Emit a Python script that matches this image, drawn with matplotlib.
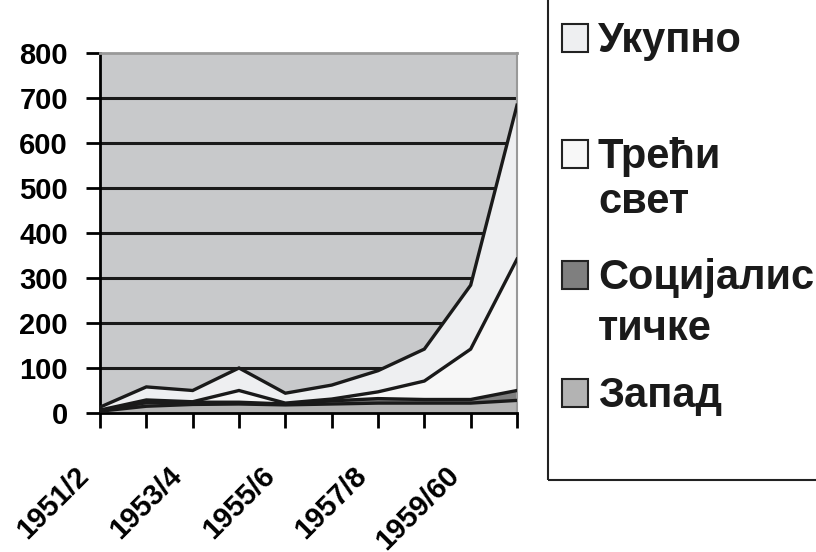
import numpy as np
import matplotlib
matplotlib.use("Agg")
import matplotlib.pyplot as plt
from matplotlib.patches import Rectangle

years = ["1951/2", "1952/3", "1953/4", "1954/5", "1955/6",
         "1956/7", "1957/8", "1958/9", "1959/60", "1960/1"]
zapad = [4, 15, 19, 20, 18, 20, 22, 22, 22, 28]
socijalisticke = [1, 8, 5, 4, 2, 7, 10, 8, 8, 22]
treci_svet = [1.5, 6, 1, 26, 2, 4, 15, 41, 112, 292]
ukupno = [6.5, 29, 25, 50, 22, 31, 47, 71, 142, 342]

names = ["Запад", "Социјалистичке", "Трећи свет", "Укупно"]
colors = ["#b3b3b3", "#7f7f7f", "#f7f7f7", "#eeeff1"]
yticks = [0, 100, 200, 300, 400, 500, 600, 700, 800]

plt.rcParams['font.family'] = ['Liberation Sans', 'DejaVu Sans']
plt.rcParams['font.weight'] = 'bold'

W, H = 816, 552
fig = plt.figure(figsize=(W/100, H/100), dpi=100)
ax = fig.add_axes([100/W, 1 - 413/H, 417/W, 360/H])
ax.set_facecolor("#c8c9cb")

x = np.arange(len(years))
series = [zapad, socijalisticke, treci_svet, ukupno]
ax.hlines(yticks[1:-1], 0, len(years) - 1, colors="#1a1a1a", lw=2.2, zorder=1)
ax.stackplot(x, *series, colors=colors, zorder=2)
tops = np.cumsum(series, axis=0)
for top in tops:
    ax.plot(x, top, color="#1a1a1a", lw=2.4, zorder=3, solid_joinstyle="miter")

ax.set_xlim(0, len(years) - 1)
ax.set_ylim(0, 800)
ax.set_yticks(yticks)
ax.set_xticks(x)
ax.set_xticklabels([])
ax.tick_params(axis="y", length=10, width=2, pad=13, labelsize=21)
ax.tick_params(axis="x", length=11, width=2)
for lab in ax.get_yticklabels():
    lab.set_fontweight("bold")

# every second season is labelled, slanted under its tick
for i, y in enumerate(years):
    if i % 2 == 0:
        ax.annotate(y, (x[i], 0), xycoords=("data", "axes fraction"),
                    xytext=(-11, -42), textcoords="offset points",
                    rotation=45, rotation_mode="anchor", ha="right",
                    va="center", fontsize=21, fontweight="bold")

ax.spines["left"].set_linewidth(2)
ax.spines["bottom"].set_linewidth(2)
ax.spines["top"].set_color("#999999")
ax.spines["right"].set_color("#999999")
ax.spines["top"].set_linewidth(2)
ax.spines["right"].set_linewidth(1.5)

# legend drawn by hand (frame runs off the top and right edges)
fig.patches.append(Rectangle((547.7/W, 1 - 480/H), 400/W, 600/H,
                             transform=fig.transFigure, fill=False,
                             ec="#222222", lw=1.5))
entries = [("Укупно", colors[3], [52]),
           ("Трећи\nсвет", colors[2], [168, 213]),
           ("Социјалис\nтичке", colors[1], [289, 340]),
           ("Запад", colors[0], [407])]
for label, col, baselines in entries:
    sq = baselines[0]
    fig.patches.append(Rectangle((562/W, 1 - sq/H), 26/W, 28/H,
                                 transform=fig.transFigure, fc=col,
                                 ec="#222222", lw=1.5))
    for line, b in zip(label.split("\n"), baselines):
        fig.text(598/W, 1 - b/H, line, fontsize=30, fontweight="bold",
                 va="baseline", ha="left", color="#1a1a1a")

fig.savefig("out.png", dpi=100)
